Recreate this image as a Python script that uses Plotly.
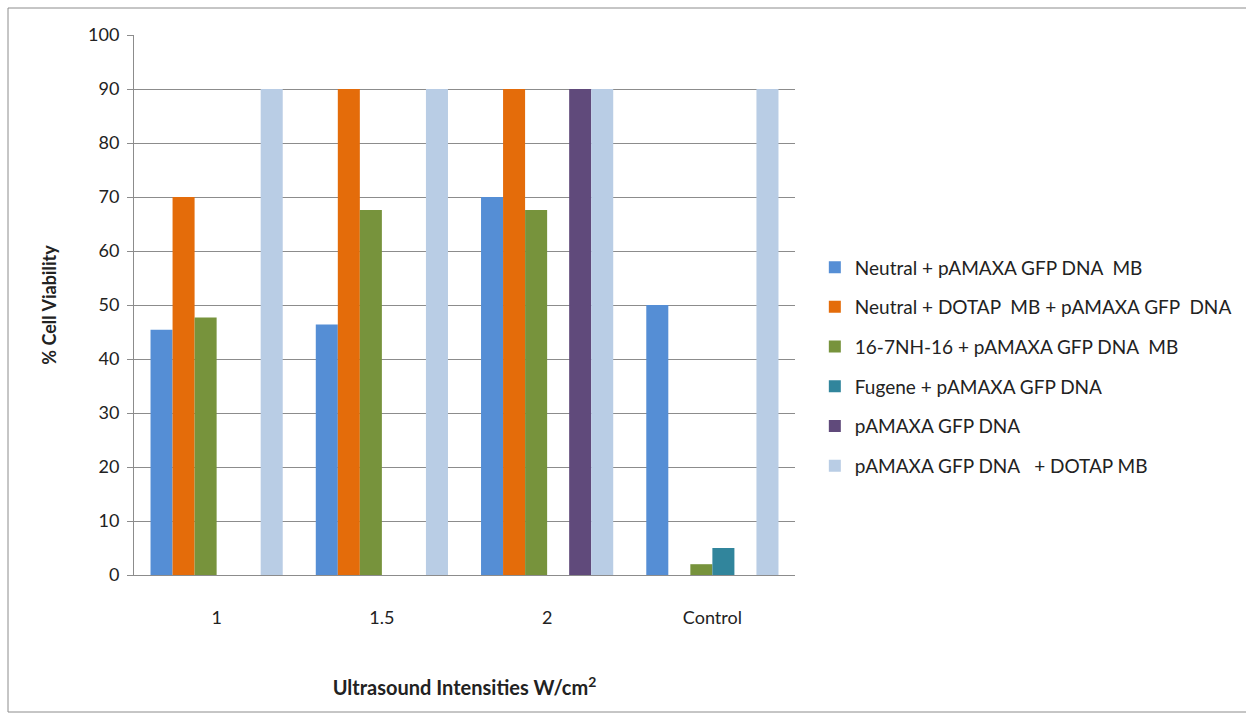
import plotly.graph_objects as go

categories = ["1", "1.5", "2", "Control"]
series_names = [
    "Neutral + pAMAXA GFP DNA  MB",
    "Neutral + DOTAP  MB + pAMAXA GFP  DNA",
    "16-7NH-16 + pAMAXA GFP DNA  MB",
    "Fugene + pAMAXA GFP DNA",
    "pAMAXA GFP DNA",
    "pAMAXA GFP DNA   + DOTAP MB",
]
neutral_mb = [45.4, 46.4, 70, 50]
neutral_dotap = [70, 90, 90, 0]
gemini_mb = [47.7, 67.6, 67.6, 2]
fugene = [0, 0, 0, 5]
naked_dna = [0, 0, 90, 0]
dna_dotap = [90, 90, 90, 90]
series_values = [neutral_mb, neutral_dotap, gemini_mb, fugene, naked_dna, dna_dotap]
colors = ["#558ED5", "#E46C0A", "#77933C", "#31859C", "#604A7B", "#B9CDE5"]
y_ticks = list(range(0, 101, 10))

fig = go.Figure()
for i, (name, vals, col) in enumerate(zip(series_names, series_values, colors)):
    fig.add_trace(go.Bar(x=categories, y=vals, name=name, marker_color=col,
                         marker_line_width=0, legendgroup=f"g{i}"))

font_family = "Lato, 'Open Sans', sans-serif"
fig.update_layout(
    width=1246, height=719,
    margin=dict(l=134, r=451, t=35, b=144, autoexpand=False),
    paper_bgcolor="white", plot_bgcolor="white",
    barmode="group", bargap=0.2, bargroupgap=0,
    font=dict(family=font_family, size=17, color="#222"),
    legend=dict(x=1.03, y=0.605, xanchor="left", yanchor="top",
                font=dict(size=19, color="#222"), tracegroupgap=12,
                itemwidth=30, traceorder="grouped"),
    showlegend=True,
)
fig.update_yaxes(range=[0, 100], tickvals=y_ticks, showgrid=True, gridcolor="#8c8c8c",
                 gridwidth=1, showline=True, linecolor="#8c8c8c", linewidth=1,
                 ticks="outside", ticklen=6, tickcolor="#8c8c8c", zeroline=False,
                 tickfont=dict(size=18, color="#222"), ticklabelstandoff=4,
                 title=dict(text="<b>% Cell Viability</b>", font=dict(size=18), standoff=26))
fig.update_xaxes(showline=True, linecolor="#8c8c8c", linewidth=1, ticks="",
                 tickfont=dict(size=18, color="#222"), ticklabelstandoff=26,
                 title=dict(text="<b>Ultrasound Intensities W/cm<sup>2</sup></b>",
                            font=dict(size=20), standoff=54))
fig.add_shape(type="rect", xref="paper", yref="paper",
              x0=-126/661, x1=(1250-134)/661, y0=-(712-575)/540, y1=(575-8)/540,
              line=dict(color="#8c8c8c", width=1), fillcolor="rgba(0,0,0,0)", layer="below")
fig.write_html("out.html")
